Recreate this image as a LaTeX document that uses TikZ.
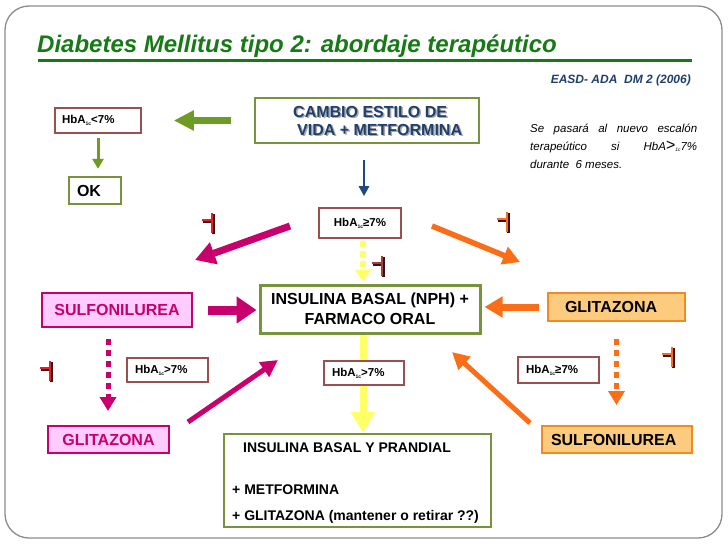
\documentclass[tikz,border=0pt]{standalone}
\usepackage{fontspec}
\setmainfont{Liberation Sans}
\usetikzlibrary{arrows.meta,calc}
\definecolor{cFrame}{HTML}{8C8C8C}
\definecolor{cTitle}{HTML}{167A16}
\definecolor{cBoxGreen}{HTML}{77933C}
\definecolor{cArrGreen}{HTML}{6E9B23}
\definecolor{cBrown}{HTML}{9A5050}
\definecolor{cNavy}{HTML}{1F3F6F}
\definecolor{cBlue}{HTML}{1F4A7D}
\definecolor{cMag}{HTML}{C8006E}
\definecolor{cPink}{HTML}{FFCCFF}
\definecolor{cOrange}{HTML}{F96E16}
\definecolor{cOrBorder}{HTML}{F28A24}
\definecolor{cOrFill}{HTML}{FDCB7E}
\definecolor{cYellow}{HTML}{FFFF66}
\definecolor{cRed}{HTML}{E4202A}
\definecolor{cTBrown}{HTML}{A04040}
\definecolor{cShadow}{HTML}{3A1010}
\definecolor{cTxtShadow}{HTML}{A8A8A8}
\newcommand\hbsub[1]{\raisebox{-1.8pt}{\fontsize{5}{5}\selectfont #1}}
\newcommand\fsz[1]{\fontsize{#1}{#1}\selectfont}
\newcommand\tmark[3]{%
  \draw[cShadow, line width=2.4pt] (#1+1.5,#2-9) -- (#1+1.5,#2+11);
  \draw[cShadow, line width=2.4pt] (#1-9,#2-1.5) -- (#1+1.5,#2-1.5);
  \draw[#3, line width=2.4pt] (#1-10,#2-3) -- (#1,#2-3);
  \draw[#3, line width=2.4pt] (#1,#2-10) -- (#1,#2+10);
}
\begin{document}
\begin{tikzpicture}[x=1pt,y=-1pt,
  blk/.style n args={3}{line width=#1,-{Triangle[length=#2,width=#3]}},
  hb/.style={draw=cBrown, line width=1.6pt, fill=white, inner ysep=0pt, font=\fsz{11.5}\bfseries, align=left},
  gbox/.style={draw=cBoxGreen, line width=2.4pt, fill=white, inner sep=0pt},
  pbox/.style={draw=cMag, line width=2pt, fill=cPink, text=cMag, font=\fsz{16}\bfseries, inner sep=0pt, align=center},
  obox/.style={draw=cOrBorder, line width=2pt, fill=cOrFill, font=\fsz{16}\bfseries, inner ysep=0pt, align=left},
  plain/.style={inner sep=0pt, anchor=base west},
]
\useasboundingbox (0,0) rectangle (728,546);
\fill[white] (0,0) rectangle (728,546);
\draw[cFrame, line width=1.3pt, rounded corners=24pt] (5,6) rectangle (722,538);

% title
\node[plain, font=\fsz{24}\bfseries\itshape, text=cTitle] (title) at (37,52) {Diabetes Mellitus tipo 2: abordaje terapéutico};
\draw[cTitle, line width=3pt] (38,60) -- (692,60);
\node[inner sep=0pt, anchor=base east, font=\fsz{12}\bfseries\itshape, text=cNavy] (easd) at (691,83) {EASD- ADA\ \ DM 2 (2006)};

% note
\node[plain, font=\fsz{11.5}\itshape] (note1) at (530,132) {\hbox to 167pt{Se\hfill pasará\hfill al\hfill nuevo\hfill escalón}};
\node[plain, font=\fsz{11.5}\itshape] (note2) at (530,150) {\hbox to 167pt{terapeútico\hfill si\hfill HbA{\fsz{16}>}\hbsub{1c}7\%}};
\node[plain, font=\fsz{11.5}\itshape] (note3) at (530,168) {durante\ \ 6 meses.};

% boxes
\node[hb, minimum height=25pt, text width=72pt, inner xsep=7pt] (hbLess) at (98,120.5) {HbA\hbsub{1c}<7\%};
\node[gbox, minimum height=27pt, text width=36pt, inner xsep=8pt, align=left, font=\fsz{16}\bfseries] (ok) at (95,190.5) {OK};
\node[gbox, minimum width=224pt, minimum height=45pt] (cambio) at (367,120.5) {};
\node[plain, font=\fsz{16}\bfseries, text=cTxtShadow] (cambioS1) at (294.5,118.5) {CAMBIO ESTILO DE};
\node[plain, font=\fsz{16}\bfseries, text=cTxtShadow] (cambioS2) at (298.5,136.5) {VIDA + METFORMINA};
\node[plain, font=\fsz{16}\bfseries, text=cNavy] (cambioL1) at (293,117) {CAMBIO ESTILO DE};
\node[plain, font=\fsz{16}\bfseries, text=cNavy] (cambioL2) at (297,135) {VIDA + METFORMINA};
\node[hb, minimum width=82pt, minimum height=30pt, inner sep=0pt, align=center] (hbTop) at (360,223) {HbA\hbsub{1c}≥7\%};
\node[gbox, line width=3pt, minimum width=220pt, minimum height=48pt, align=center, font=\fontsize{16}{20}\selectfont\bfseries] (mid) at (370,309) {INSULINA BASAL (NPH) +\\FARMACO ORAL};
\node[pbox, minimum width=150pt, minimum height=34pt] (sulfoL) at (117,310) {SULFONILUREA};
\node[obox, minimum height=28pt, text width=103pt, inner xsep=17pt] (glitR) at (616.5,307) {GLITAZONA};
\node[hb, minimum height=24pt, text width=65pt, inner xsep=8pt] (hbL2) at (167.5,370) {HbA\hbsub{1c}>7\%};
\node[hb, minimum height=26pt, text width=65pt, inner xsep=8pt] (hbR2) at (558.5,370) {HbA\hbsub{1c}≥7\%};
\node[pbox, minimum width=121pt, minimum height=27pt] (glitL) at (108.5,439.5) {GLITAZONA};
\node[obox, minimum height=27pt, text width=132pt, inner xsep=9pt] (sulfoR) at (617,439.5) {SULFONILUREA};
\node[gbox, line width=2pt, minimum width=267pt, minimum height=93pt] (prandial) at (357.5,480.5) {};
\node[plain, font=\fsz{14}\bfseries] (pr1) at (243,452) {INSULINA BASAL Y PRANDIAL};
\node[plain, font=\fsz{14}\bfseries] (pr2) at (232,494) {+ METFORMINA};
\node[plain, font=\fsz{14}\bfseries] (pr3) at (232,520) {+ GLITAZONA (mantener o retirar ??)};

% arrows
\draw[blk={7pt}{20pt}{19pt}, cArrGreen, shorten <=23pt, shorten >=32pt] (cambio.west) -- (hbLess.east);
\draw[blk={3pt}{10pt}{11pt}, cArrGreen, shorten <=4pt, shorten >=7pt] (hbLess.south) -- (hbLess.south |- ok.north);
\draw[blk={2.5pt}{10pt}{10pt}, cBlue, shorten <=16pt, shorten >=11pt] ([xshift=4pt]hbTop.north |- cambio.south) -- ([xshift=4pt]hbTop.north);
\draw[blk={6pt}{12pt}{16pt}, cYellow, dash pattern=on 6pt off 4pt, shorten <=2pt, shorten >=2pt] ([xshift=3pt]hbTop.south) -- ([xshift=3pt]hbTop.south |- mid.north);
\draw[blk={7pt}{21pt}{23pt}, cYellow] ([xshift=-7pt]mid.south) -- ([xshift=-7pt]mid.south |- prandial.north);
\coordinate (mulS) at (290,226);
\coordinate (mulE) at (195,260);
\draw[blk={7pt}{20pt}{22pt}, cMag] (mulS) -- (mulE);
\coordinate (ourS) at (432,226);
\coordinate (ourE) at (520,262);
\draw[blk={5.5pt}{17pt}{18pt}, cOrange] (ourS) -- (ourE);
\draw[blk={9pt}{20pt}{26pt}, cMag, shorten <=15pt, shorten >=2pt] (sulfoL.east) -- (sulfoL.east -| mid.west);
\draw[blk={7pt}{18pt}{20pt}, cOrange, shorten <=8pt, shorten >=3pt] (glitR.west) -- (glitR.west -| mid.east);
\draw[blk={5pt}{14pt}{16pt}, cMag, dash pattern=on 6pt off 5pt, shorten <=11pt, shorten >=14pt] ([xshift=-9pt]sulfoL.south) -- ([xshift=-9pt]sulfoL.south |- glitL.north);
\draw[blk={5pt}{14pt}{16pt}, cOrange, dash pattern=on 6pt off 5pt, shorten <=17pt, shorten >=20pt] (glitR.south) -- (glitR.south |- sulfoR.north);
\coordinate (mdS) at (188,422);
\coordinate (mdE) at (278,360);
\draw[blk={5pt}{17pt}{17pt}, cMag] (mdS) -- (mdE);
\coordinate (odS) at (530,423);
\coordinate (odE) at (452,352);
\draw[blk={5pt}{17pt}{17pt}, cOrange] (odS) -- (odE);

% box drawn over the yellow arrow
\node[hb, minimum height=24pt, text width=64pt, inner xsep=8pt] (hbC2) at (364,373) {HbA\hbsub{1c}>7\%};

% stop marks
\tmark{212}{223}{cRed}
\tmark{382}{266}{cTBrown}
\tmark{507}{222}{cOrange}
\tmark{50}{371}{cRed}
\tmark{672}{357}{cOrange}
\end{tikzpicture}
\end{document}
